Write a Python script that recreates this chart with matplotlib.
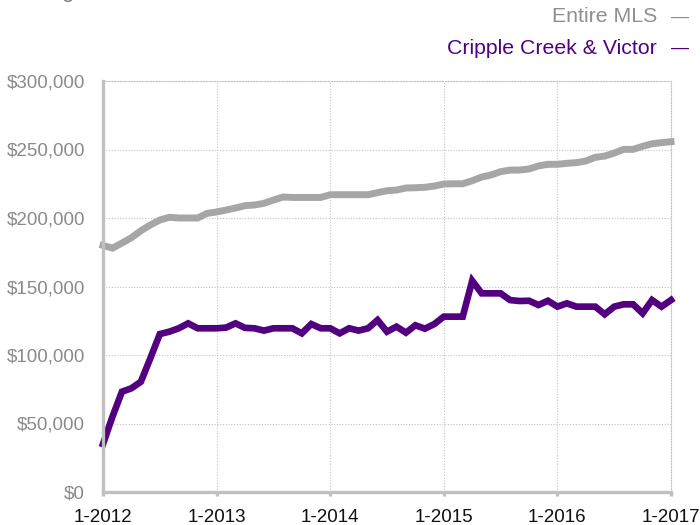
import matplotlib
matplotlib.use("Agg")
import matplotlib.pyplot as plt
from matplotlib.ticker import FuncFormatter

plt.rcParams['font.family'] = ['Liberation Sans', 'DejaVu Sans']

# Monthly values, Jan 2012 .. Jan 2017
entire_mls = [180000, 178000, 181700, 185600, 190700, 194900, 198500, 200500, 200000, 200000,
              200000, 203400, 204400, 205800, 207300, 209000, 209500, 210700, 213100, 215300,
              215000, 215000, 215000, 215000, 217000, 217000, 217000, 217000, 217000, 218500,
              219900, 220400, 221900, 222100, 222400, 223300, 224800, 225000, 225000, 227200,
              229900, 231400, 233800, 235000, 235000, 235800, 238000, 239200, 239200, 239900,
              240400, 241600, 244300, 245200, 247400, 250100, 250100, 252300, 254200, 255000,
              255700]
cripple_creek = [35000, 55000, 73200, 75700, 80500, 97600, 115300, 117000, 119500, 123100,
                 119500, 119500, 119500, 120000, 123100, 119800, 119500, 117800, 119500, 119500,
                 119500, 115800, 122600, 119500, 119500, 115800, 119500, 117800, 119500, 125500,
                 117000, 120700, 116300, 121700, 119200, 122600, 128000, 128000, 128000, 154200,
                 145000, 145000, 145000, 140100, 139400, 139600, 136500, 139600, 135300, 137700,
                 135300, 135300, 135300, 129700, 135300, 137000, 137000, 130400, 140100, 135300,
                 140100]
tick_labels = ["1-2012", "1-2013", "1-2014", "1-2015", "1-2016", "1-2017"]
series_names = ["Entire MLS", "Cripple Creek & Victor"]

GRAY = "#a6a6a6"
PURPLE = "#520080"

fig = plt.figure(figsize=(7, 5.25), dpi=100)
ax = fig.add_axes([103/700, 1-492/525, (671-103)/700, (492-81)/525])

months = list(range(len(entire_mls)))
ax.plot(months, entire_mls, color=GRAY, lw=5, solid_joinstyle='miter', zorder=3, clip_on=False)
ax.plot(months, cripple_creek, color=PURPLE, lw=4.8, solid_joinstyle='miter', zorder=4, clip_on=False)

ax.set_xlim(0, 60)
ax.set_ylim(0, 300000)
ax.set_yticks(range(0, 300001, 50000))
ax.yaxis.set_major_formatter(FuncFormatter(lambda v, p: "${:,.0f}".format(v)))
ax.set_xticks([0, 12, 24, 36, 48, 60])
ax.set_xticklabels(tick_labels)

ax.grid(True, color="#c4c4c4", lw=0.8, linestyle=(0, (1, 1.5)), zorder=0)
for s in ["top", "right"]:
    ax.spines[s].set_color("#c4c4c4")
    ax.spines[s].set_linewidth(0.8)
    ax.spines[s].set_linestyle((0, (1, 1.5)))
for s in ["left", "bottom"]:
    ax.spines[s].set_color("#c0c0c0")
    ax.spines[s].set_linewidth(2.4)
    ax.spines[s].set_zorder(5)

ax.tick_params(axis='y', length=0, pad=13, labelsize=13.5, labelcolor="#8a8a8a")
ax.tick_params(axis='x', length=3, width=2.4, color="#c0c0c0", pad=9.5, labelsize=13.5, labelcolor="#111111")

# Legend rendered as right-aligned text with colored dashes
fig.text(657/700, 1-17/525, series_names[0], ha='right', va='center', fontsize=15.3, color="#8f8f8f")
fig.text(680/700, 1-17/525, "\u2014", ha='center', va='center', fontsize=13, color="#8f8f8f")
fig.text(657/700, 1-48/525, series_names[1], ha='right', va='center', fontsize=15.3, color=PURPLE)
fig.text(680/700, 1-48/525, "\u2014", ha='center', va='center', fontsize=13, color=PURPLE)

# Title cut off at top edge (as in the reference)
fig.text(10/700, 1+2/525, "Rolling 12-Month Calculation", ha='left', va='baseline', fontsize=15, color="#777777")

fig.savefig("out.png", dpi=100)
